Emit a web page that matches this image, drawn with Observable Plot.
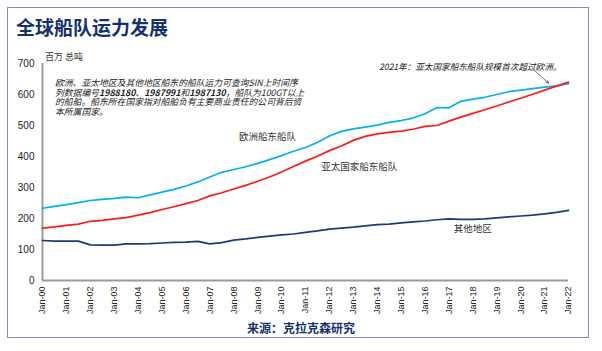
<!DOCTYPE html>
<html>
<head>
<meta charset="utf-8">
<script src="https://cdn.jsdelivr.net/npm/d3@7"></script>
<script src="https://cdn.jsdelivr.net/npm/@observablehq/plot@0.6"></script>
<style>
  body { margin: 0; background: #fff; font-family: "Liberation Sans", Arial, "Noto Sans CJK SC", sans-serif; }
  #wrap { position: relative; width: 602px; height: 351px; overflow: hidden; }
  #frame { position: absolute; left: 7px; top: 7px; width: 582px; height: 331px; border: 1.5px solid #7d90b3; box-sizing: border-box; }
  #title { position: absolute; left: 16px; top: 13px; font-size: 19px; font-weight: bold; color: #14306e; font-family: "Noto Sans CJK SC", sans-serif; }
  #unit { position: absolute; left: 45px; top: 50px; font-size: 9px; color: #333; font-family: "Noto Sans CJK SC", sans-serif; }
  #note { position: absolute; left: 55px; top: 78px; font-size: 8.8px; line-height: 9.6px; font-style: italic; color: #222; font-family: "Noto Sans CJK SC", sans-serif; white-space: nowrap; }
  #note div { height: 9.6px; }
  #note2 { position: absolute; left: 379px; top: 60px; font-size: 8.6px; font-style: italic; color: #222; font-family: "Noto Sans CJK SC", sans-serif; white-space: nowrap; }
  #source { position: absolute; left: 0; width: 602px; top: 319px; text-align: center; font-size: 12px; font-weight: bold; color: #14306e; font-family: "Noto Sans CJK SC", sans-serif; }
  #chart { position: absolute; left: 0; top: 0; }
</style>
</head>
<body>
<div id="wrap">
  <div id="chart"></div>
  <div id="frame"></div>
  <div id="title"></div>
  <div id="unit"></div>
  <div id="note"></div>
  <div id="note2"></div>
  <div id="source"></div>
</div>
<script>
// ---- Text ----
const titleText = "全球船队运力发展";
const unitText = "百万 总吨";
const noteLines = [
  "欧洲、亚太地区及其他地区船东的船队运力可查询SIN上时间序",
  "列数据编号<b>1988180</b>、<b>1987991</b>和<b>1987130</b>，船队为100GT以上",
  "的船舶。船东所在国家指对船舶负有主要商业责任的公司背后资",
  "本所属国家。"
];
const note2Text = "2021年：亚太国家船东船队规模首次超过欧洲。";
const sourceText = "来源：克拉克森研究";

// ---- Data (half-yearly readings, million GT) ----
const dates = ["2000-01","2000-07","2001-01","2001-07","2002-01","2002-07","2003-01","2003-07","2004-01","2004-07",
  "2005-01","2005-07","2006-01","2006-07","2007-01","2007-07","2008-01","2008-07","2009-01","2009-07",
  "2010-01","2010-07","2011-01","2011-07","2012-01","2012-07","2013-01","2013-07","2014-01","2014-07",
  "2015-01","2015-07","2016-01","2016-07","2017-01","2017-07","2018-01","2018-07","2019-01","2019-07",
  "2020-01","2020-07","2021-01","2021-07","2022-01"];
const europe = [233,239,245,251,258,262,265,269,267,276,
  285,294,305,318,334,349,358,367,378,390,
  403,417,429,445,466,481,489,495,501,510,
  516,524,538,558,557,578,585,591,600,609,
  614,619,624,628,635];
const asiaPacific = [169,173,178,182,191,194,199,203,211,219,
  229,238,248,258,273,283,295,307,320,334,
  350,368,385,401,419,434,452,465,473,478,
  482,488,497,500,514,527,539,551,563,576,
  588,601,614,627,640];
const others = [129,127,127,127,115,114,114,118,118,119,
  121,123,124,126,118,122,130,134,139,143,
  147,150,155,160,166,169,172,176,180,182,
  186,189,192,196,199,197,197,199,202,205,
  208,211,215,220,226];

const seriesNames = ["欧洲船东船队", "亚太国家船东船队", "其他地区"];
const seriesColors = ["#00b0f0", "#ff1a1a", "#1b3a78"];
const labelDates = ["2009-06", "2013-04", "2018-01"];
const labelValues = [462, 367, 165];
const yTicks = [0, 100, 200, 300, 400, 500, 600, 700];
const xTickYears = d3.range(2000, 2023);
const arrowFrom = ["2020-08", 677];
const arrowTo = ["2021-03", 637];

// ---- Build ----
const parse = d3.utcParse("%Y-%m");
const rows = [];
[europe, asiaPacific, others].forEach((arr, i) => {
  arr.forEach((v, j) => rows.push({date: parse(dates[j]), value: v, series: seriesNames[i]}));
});
const labels = seriesNames.map((s, i) => ({date: parse(labelDates[i]), value: labelValues[i], text: s}));
const xTicks = xTickYears.map(y => new Date(Date.UTC(y, 0, 1)));
const fmt = d => "Jan-" + String(d.getUTCFullYear() % 100).padStart(2, "0");

const font = "'Liberation Sans', Arial, 'Noto Sans CJK SC', sans-serif";

const chart = Plot.plot({
  width: 602,
  height: 351,
  marginLeft: 42,
  marginRight: 34,
  marginTop: 63,
  marginBottom: 71,
  style: {fontFamily: font, background: "transparent", color: "#222", overflow: "visible"},
  x: {type: "utc", domain: [xTicks[0], xTicks[xTicks.length - 1]], label: null},
  y: {domain: [0, 700], label: null},
  color: {domain: seriesNames, range: seriesColors},
  marks: [
    Plot.axisX({ticks: xTicks, tickFormat: fmt, tickRotate: -90, tickSize: 0, tickPadding: 6, fontSize: 9, label: null}),
    Plot.axisY({ticks: yTicks, tickSize: 0, tickPadding: 8, fontSize: 10, label: null}),
    Plot.ruleY([0], {stroke: "#9a9a9a", strokeWidth: 2}),
    Plot.ruleX([xTicks[0]], {stroke: "#9a9a9a", strokeWidth: 2}),
    Plot.line(rows, {x: "date", y: "value", z: "series", stroke: "series", strokeWidth: 1.7}),
    Plot.text(labels, {x: "date", y: "value", text: "text", fontSize: 9.5, fill: "#333", fontFamily: "'Noto Sans CJK SC', sans-serif"}),
    Plot.arrow([{x1: parse(arrowFrom[0]), y1: arrowFrom[1], x2: parse(arrowTo[0]), y2: arrowTo[1]}],
      {x1: "x1", y1: "y1", x2: "x2", y2: "y2", stroke: "#555", strokeWidth: 0.8, headLength: 5})
  ]
});
document.getElementById("chart").appendChild(chart);
document.getElementById("title").textContent = titleText;
document.getElementById("unit").textContent = unitText;
document.getElementById("note").innerHTML = noteLines.map(l => "<div>" + l + "</div>").join("");
document.getElementById("note2").textContent = note2Text;
document.getElementById("source").textContent = sourceText;
</script>
</body>
</html>
